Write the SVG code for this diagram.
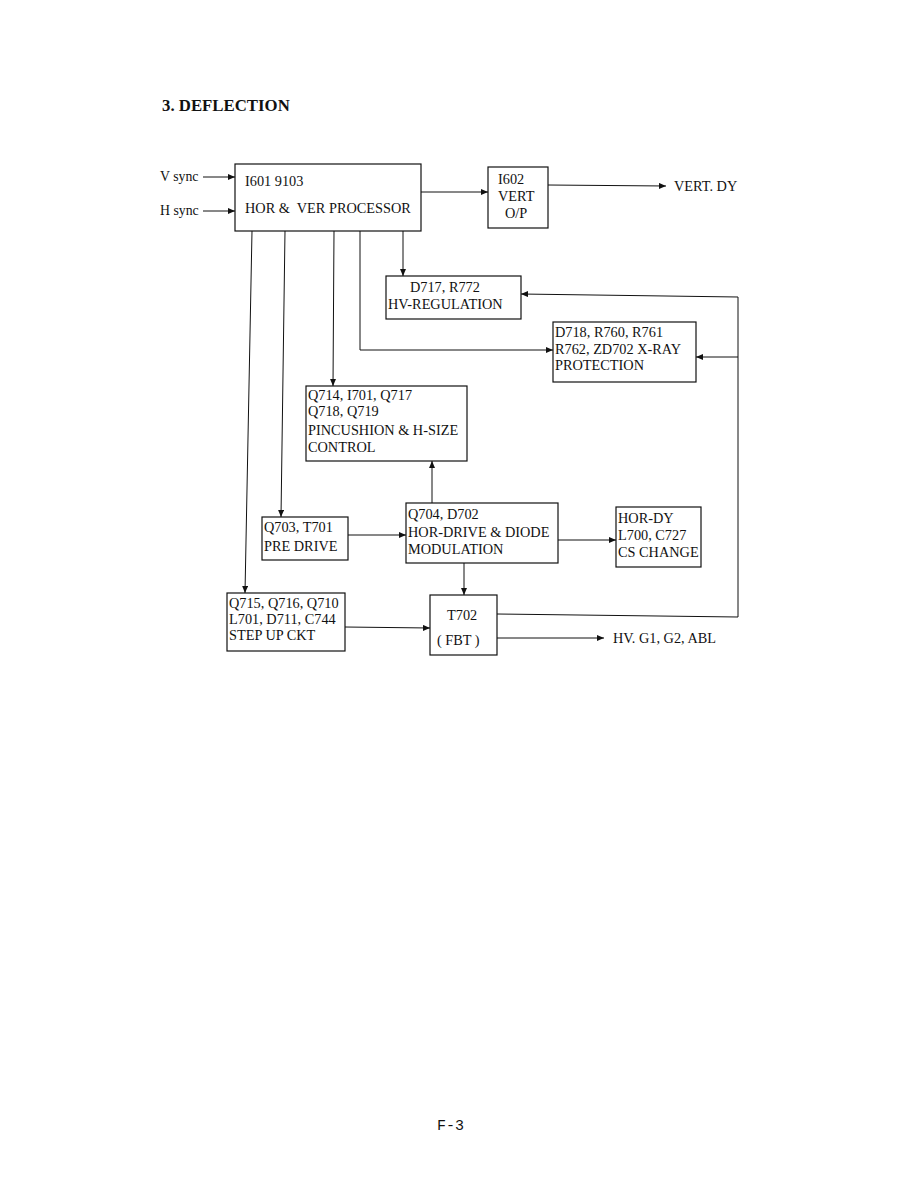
<svg xmlns="http://www.w3.org/2000/svg" width="918" height="1188" viewBox="0 0 918 1188">
<style>
text{font-family:"Liberation Serif","Times New Roman",serif;font-size:14.3px;fill:#111}
.t{font-weight:bold;font-size:16.8px}
.s{font-size:13.8px}
.box{fill:none;stroke:#111;stroke-width:1.2}
.c{fill:none;stroke:#111;stroke-width:1}
.f{font-family:"Liberation Mono","Courier New",monospace;font-size:15px}
</style>
<defs>
<marker id="a" markerWidth="8" markerHeight="6" refX="7" refY="3" orient="auto" markerUnits="userSpaceOnUse">
<path d="M0,0 L7,3 L0,6 Z" fill="#111"/>
</marker>
</defs>
<rect width="918" height="1188" fill="#fff"/>
<text class="t" x="162" y="111">3. DEFLECTION</text>
<g id="connectors">
<line class="c" x1="203" y1="177" x2="235" y2="177" marker-end="url(#a)"/>
<line class="c" x1="203" y1="211" x2="235" y2="211" marker-end="url(#a)"/>
<line class="c" x1="421" y1="192" x2="488" y2="192" marker-end="url(#a)"/>
<line class="c" x1="548" y1="185" x2="666" y2="186" marker-end="url(#a)"/>
<line class="c" x1="403" y1="231" x2="403" y2="276" marker-end="url(#a)"/>
<polyline class="c" points="360,231 360,350 553,350" marker-end="url(#a)"/>
<line class="c" x1="334" y1="231" x2="333" y2="386" marker-end="url(#a)"/>
<line class="c" x1="285" y1="231" x2="281" y2="517" marker-end="url(#a)"/>
<line class="c" x1="252" y1="231" x2="245" y2="593" marker-end="url(#a)"/>
<line class="c" x1="432" y1="503" x2="432" y2="461" marker-end="url(#a)"/>
<line class="c" x1="348" y1="535" x2="406" y2="535" marker-end="url(#a)"/>
<line class="c" x1="558" y1="540" x2="616" y2="540" marker-end="url(#a)"/>
<line class="c" x1="464" y1="563" x2="464" y2="595" marker-end="url(#a)"/>
<line class="c" x1="345" y1="627" x2="430" y2="628" marker-end="url(#a)"/>
<line class="c" x1="497" y1="638" x2="604" y2="638" marker-end="url(#a)"/>
<polyline class="c" points="497,614 738,617 738,297 521,294" marker-end="url(#a)"/>
<line class="c" x1="738" y1="357" x2="696" y2="357" marker-end="url(#a)"/>
</g>
<text class="s" x="160" y="181">V sync</text>
<text class="s" x="160" y="215">H sync</text>
<text x="674" y="191">VERT. DY</text>
<text x="613" y="643">HV. G1, G2, ABL</text>
<g id="processor">
<rect class="box" x="235" y="164" width="186" height="67"/>
<text x="245" y="186">I601 9103</text>
<text x="245" y="213" xml:space="preserve">HOR &amp;  VER PROCESSOR</text>
</g>
<g id="vert-op">
<rect class="box" x="488" y="167" width="60" height="61"/>
<text x="498" y="184">I602</text>
<text x="498" y="201">VERT</text>
<text x="505" y="218">O/P</text>
</g>
<g id="hv-regulation">
<rect class="box" x="386" y="276" width="135" height="43"/>
<text x="410" y="292">D717, R772</text>
<text x="388" y="309">HV-REGULATION</text>
</g>
<g id="x-ray">
<rect class="box" x="553" y="322" width="143" height="60"/>
<text x="555" y="337">D718, R760, R761</text>
<text x="555" y="354">R762, ZD702 X-RAY</text>
<text x="555" y="370">PROTECTION</text>
</g>
<g id="pincushion">
<rect class="box" x="306" y="386" width="161" height="75"/>
<text x="308" y="400">Q714, I701, Q717</text>
<text x="308" y="416">Q718, Q719</text>
<text x="308" y="435">PINCUSHION &amp; H-SIZE</text>
<text x="308" y="452">CONTROL</text>
</g>
<g id="pre-drive">
<rect class="box" x="262" y="517" width="86" height="43"/>
<text x="264" y="532">Q703, T701</text>
<text x="264" y="551">PRE DRIVE</text>
</g>
<g id="hor-drive">
<rect class="box" x="406" y="503" width="152" height="60"/>
<text x="408" y="519">Q704, D702</text>
<text x="408" y="537">HOR-DRIVE &amp; DIODE</text>
<text x="408" y="554">MODULATION</text>
</g>
<g id="hor-dy">
<rect class="box" x="616" y="507" width="85" height="60"/>
<text x="618" y="523">HOR-DY</text>
<text x="618" y="540">L700, C727</text>
<text x="618" y="557">CS CHANGE</text>
</g>
<g id="step-up">
<rect class="box" x="227" y="593" width="118" height="58"/>
<text x="229" y="608">Q715, Q716, Q710</text>
<text x="229" y="624">L701, D711, C744</text>
<text x="229" y="640">STEP UP CKT</text>
</g>
<g id="fbt">
<rect class="box" x="430" y="595" width="67" height="60"/>
<text x="447" y="620">T702</text>
<text x="437" y="645">( FBT )</text>
</g>
<text class="f" x="437" y="1130">F-3</text>
</svg>
